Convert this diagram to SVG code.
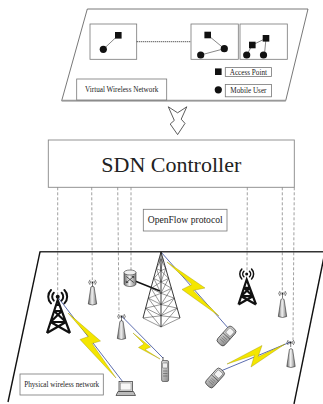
<svg xmlns="http://www.w3.org/2000/svg" width="323" height="404" viewBox="0 0 323 404">
  <style>
    .lbl { font-family: "Liberation Serif", "Times New Roman", serif; fill: #222; }
    .box { fill: #fff; stroke: #777; stroke-width: 0.8; }
    .ctl { stroke: #888; stroke-width: 0.8; stroke-dasharray: 3 2; fill: none; }
    .vline { stroke: #555; stroke-width: 0.7; fill: none; }
    .link { stroke: #4a5ca6; stroke-width: 0.9; fill: none; }
    .bolt { fill: #f4e600; stroke: #a09600; stroke-width: 0.4; stroke-linejoin: round; }
    .blk { stroke: #111; stroke-width: 2.2; fill: none; stroke-linejoin: miter; stroke-linecap: butt; }
    .wave { stroke: #111; fill: none; stroke-linecap: round; }
    .swave { stroke: #222; stroke-width: 0.6; fill: none; }
  </style>
  <defs>
    <linearGradient id="metal" x1="0" y1="0" x2="1" y2="0">
      <stop offset="0" stop-color="#6d6d6d"/>
      <stop offset="0.45" stop-color="#f2f2f2"/>
      <stop offset="1" stop-color="#7d7d7d"/>
    </linearGradient>
    <linearGradient id="phoneFill" x1="0" y1="0" x2="1" y2="1">
      <stop offset="0" stop-color="#e6e6e6"/>
      <stop offset="1" stop-color="#8a8a8a"/>
    </linearGradient>
    <!-- small omni antenna body, top at origin -->
    <g id="antBody">
      <path d="M-1.6,0 Q0,-1.8 1.6,0 L4.2,17 Q0,19 -4.2,17 Z" fill="url(#metal)" stroke="#333" stroke-width="0.6"/>
    </g>
    <!-- small radio waves ((.)) -->
    <g id="sWaves">
      <circle r="0.9" fill="#222"/>
      <path class="swave" d="M-1.4,-1.4 A2,2 0 0 0 -1.4,1.4 M1.4,-1.4 A2,2 0 0 1 1.4,1.4 M-2.5,-2.5 A3.5,3.5 0 0 0 -2.5,2.5 M2.5,-2.5 A3.5,3.5 0 0 1 2.5,2.5"/>
      <line x1="0" y1="0" x2="0" y2="4.5" stroke="#222" stroke-width="0.6"/>
    </g>
    <!-- flip phone, centred at origin, upright -->
    <g id="phone">
      <rect x="-4.8" y="-10.5" width="9.6" height="21" rx="3" fill="url(#phoneFill)" stroke="#333" stroke-width="0.7"/>
      <rect x="-3.2" y="-8.5" width="6.4" height="6.5" rx="1" fill="#f4f4f4" stroke="#555" stroke-width="0.5"/>
      <line x1="-4.8" y1="0" x2="4.8" y2="0" stroke="#333" stroke-width="0.6"/>
      <path d="M-2.8,2.5 H2.8 M-2.8,4.5 H2.8 M-2.8,6.5 H2.8" stroke="#555" stroke-width="0.5"/>
    </g>
  </defs>

  <!-- virtual network plane -->
  <g id="virtual-plane">
    <path d="M87.3,9 L308,9 L285.7,100.7 L61.7,100.7 Z" fill="#fff" stroke="#555" stroke-width="0.8"/>
    <line x1="61.7" y1="100.7" x2="285.7" y2="100.7" stroke="#999" stroke-width="1.8"/>
  </g>

  <g id="vnet-1">
    <rect class="box" x="90" y="24" width="46.7" height="35.3"/>
    <line class="vline" x1="103.3" y1="49.3" x2="118.3" y2="35.2"/>
    <rect x="115" y="32" width="6.6" height="6.6" fill="#111"/>
    <circle cx="103.3" cy="49.3" r="3.6" fill="#111"/>
  </g>

  <line x1="136.7" y1="41.7" x2="191" y2="41.7" stroke="#333" stroke-width="0.9" stroke-dasharray="1.2 0.8"/>

  <g id="vnet-2">
    <rect class="box" x="191" y="24" width="47.3" height="35.3"/>
    <path class="vline" d="M207.7,35 L224.3,48.7 L200.7,55"/>
    <rect x="204.4" y="31.7" width="6.6" height="6.6" fill="#111"/>
    <circle cx="224.3" cy="48.7" r="3.6" fill="#111"/>
    <circle cx="200.7" cy="55" r="3.6" fill="#111"/>
  </g>

  <g id="vnet-3">
    <rect class="box" x="240" y="24" width="47.3" height="35.3"/>
    <path class="vline" d="M246.7,55 L252.3,45 L266,38.3 L264.5,54"/>
    <rect x="249" y="41.7" width="6.6" height="6.6" fill="#111"/>
    <rect x="262.7" y="35" width="6.6" height="6.6" fill="#111"/>
    <circle cx="246.7" cy="55" r="3.6" fill="#111"/>
    <circle cx="263.5" cy="55" r="3.6" fill="#111"/>
  </g>

  <g id="legend">
    <rect x="215" y="68.4" width="6.6" height="6.6" fill="#111"/>
    <rect class="box" x="225.3" y="67.6" width="46.2" height="8.8"/>
    <text class="lbl" x="248.4" y="74.6" font-size="7.2" text-anchor="middle">Access Point</text>
    <circle cx="218.3" cy="89.8" r="3.6" fill="#111"/>
    <rect class="box" x="225.3" y="84.4" width="46.2" height="12.4"/>
    <text class="lbl" x="248.4" y="93.2" font-size="7.2" text-anchor="middle">Mobile User</text>
  </g>

  <g id="vnet-label">
    <rect class="box" x="76.7" y="79" width="90" height="21"/>
    <text class="lbl" x="121.7" y="92" font-size="7.2" text-anchor="middle">Virtual Wireless Network</text>
  </g>

  <!-- mapping arrow -->
  <g id="map-arrow">
    <path d="M168.3,106.8 L177.6,112.8 L186.8,106.8 L181.2,119.2 L185,123.4 L177.6,134.6 L170.2,124 L174.3,120.4 Z" fill="#fff" stroke="#333" stroke-width="0.8" stroke-linejoin="miter"/>
  </g>

  <g id="sdn-controller">
    <rect x="48.3" y="140" width="246" height="47.3" fill="#fff" stroke="#888" stroke-width="0.9"/>
    <text class="lbl" x="171.3" y="171.5" font-size="22" text-anchor="middle">SDN Controller</text>
  </g>

  <!-- control channels -->
  <g id="connectors">
    <line class="ctl" x1="57.7" y1="187.3" x2="57.7" y2="295"/>
    <line class="ctl" x1="91.7" y1="187.3" x2="92.3" y2="280"/>
    <line class="ctl" x1="117.7" y1="187.3" x2="119" y2="313"/>
    <line class="ctl" x1="131" y1="187.3" x2="131" y2="270"/>
    <line class="ctl" x1="247.3" y1="187.3" x2="247" y2="272"/>
    <line class="ctl" x1="282.3" y1="187.3" x2="282.3" y2="291"/>
    <line class="ctl" x1="294.3" y1="187.3" x2="293" y2="340"/>

    <!-- wireless links -->
    <line class="link" x1="161" y1="252" x2="229" y2="329"/>
    <line class="link" x1="290.5" y1="342" x2="222" y2="370.5"/>
    <line class="link" x1="121.5" y1="316" x2="163" y2="358"/>
    <line class="link" x1="57.7" y1="297" x2="124.5" y2="384"/>
    <line x1="135" y1="281" x2="160" y2="291" stroke="#111" stroke-width="1.4"/>

    <path class="bolt" d="M167,262 L205,288 L193,290.5 L219,316 L182,289.5 L192,284.5 Z"/>
    <path class="bolt" d="M227,364 L262,345.5 L258,357 L285,344 L251,367 L254.5,355 Z"/>
    <path class="bolt" d="M133,333 L150.5,347 L145,349.5 L160,359 L138.5,347.5 L144,344 Z"/>
    <path class="bolt" d="M68,313 L100.5,341 L92,343.5 L116,378 L80,339.5 L88.5,336.5 Z"/>
  </g>

  <g id="openflow-label">
    <rect class="box" x="143.3" y="209.3" width="83.7" height="21.7"/>
    <text class="lbl" x="185.2" y="223.3" font-size="9.6" text-anchor="middle">OpenFlow protocol</text>
  </g>

  <!-- physical network plane -->
  <g id="physical-plane">
    <line x1="39.5" y1="251.8" x2="323" y2="251.8" stroke="#333" stroke-width="1.5"/>
    <line x1="40" y1="251.8" x2="8" y2="402" stroke="#111" stroke-width="1.4"/>
    <line x1="325" y1="251.8" x2="294" y2="404" stroke="#111" stroke-width="1.4"/>
  </g>

  <g id="macro-tower">
    <path class="blk" d="M47,333 L57.7,300 L70,333 M56.1,305 H59.6 M54.1,311 H61.8 M50.6,322 H65.9 M54.1,311 L65.9,322 M61.8,311 L50.6,322 M50.6,322 L70,333 M65.9,322 L47,333"/>
    <circle cx="57.7" cy="296.7" r="2" fill="#111"/>
    <path class="wave" stroke-width="2" d="M53.8,292.8 A5.5,5.5 0 0 0 53.8,300.6 M61.6,292.8 A5.5,5.5 0 0 1 61.6,300.6 M51,290 A9.5,9.5 0 0 0 51,303.4 M64.4,290 A9.5,9.5 0 0 1 64.4,303.4"/>
  </g>

  <g id="bs-tower">
    <path class="blk" stroke-width="1.8" d="M238.5,304.5 L246.7,279.5 L256,304.5 M244,287.8 H249.8 M241.2,296.2 H252.9 M244,287.8 L252.9,296.2 M249.8,287.8 L241.2,296.2 M241.2,296.2 L256,304.5 M252.9,296.2 L238.5,304.5"/>
    <circle cx="246.7" cy="274" r="1.5" fill="#111"/>
    <path class="wave" stroke-width="1.5" d="M243.9,271.2 A4,4 0 0 0 243.9,276.8 M249.5,271.2 A4,4 0 0 1 249.5,276.8 M241.8,269.1 A7,7 0 0 0 241.8,278.9 M251.6,269.1 A7,7 0 0 1 251.6,278.9"/>
  </g>

  <g id="lattice-tower">
    <path d="M161,252 Q151,287 143,318 M161,252 Q171,287 180,318 M161,252 L161,327" stroke="#222" stroke-width="0.9" fill="none"/>
    <path stroke="#333" stroke-width="0.5" fill="none" d="
      M159.2,258.6 L161,259.5 L162.9,258.6
      M156.5,268.5 L161,270.75 L165.75,268.5
      M153.8,278.4 L161,282 L168.6,278.4
      M151.1,288.3 L161,293.25 L171.45,288.3
      M148.4,298.2 L161,304.5 L174.3,298.2
      M145.7,308.1 L161,315.75 L177.15,308.1
      M143,318 L161,327 L180,318
      M159.2,258.6 L161,270.75 M161,259.5 L156.5,268.5 M161,259.5 L165.75,268.5 M162.9,258.6 L161,270.75
      M156.5,268.5 L161,282 M161,270.75 L153.8,278.4 M161,270.75 L168.6,278.4 M165.75,268.5 L161,282
      M153.8,278.4 L161,293.25 M161,282 L151.1,288.3 M161,282 L171.45,288.3 M168.6,278.4 L161,293.25
      M151.1,288.3 L161,304.5 M161,293.25 L148.4,298.2 M161,293.25 L174.3,298.2 M171.45,288.3 L161,304.5
      M148.4,298.2 L161,315.75 M161,304.5 L145.7,308.1 M161,304.5 L177.15,308.1 M174.3,298.2 L161,315.75
      M145.7,308.1 L161,327 M161,315.75 L143,318 M161,315.75 L180,318 M177.15,308.1 L161,327"/>
  </g>

  <g id="router">
    <path d="M124,272.5 L124,284 A6,2.5 0 0 0 136,284 L136,272.5 Z" fill="url(#metal)" stroke="#333" stroke-width="0.6"/>
    <ellipse cx="130" cy="272.5" rx="6" ry="2.5" fill="#f0f0f0" stroke="#333" stroke-width="0.6"/>
    <path d="M126.3,276.5 L133.7,282.5 M126.3,282.5 L133.7,276.5 M131.8,276.5 H133.7 V278.2 M128.2,282.5 H126.3 V280.8" stroke="#222" stroke-width="0.7" fill="none"/>
  </g>

  <g id="antenna-1">
    <use href="#antBody" x="92.5" y="287"/>
    <use href="#sWaves" x="92.5" y="282.3"/>
  </g>
  <g id="antenna-2">
    <use href="#antBody" x="121.5" y="321.5"/>
    <use href="#sWaves" x="121.5" y="316.5"/>
  </g>
  <g id="antenna-3">
    <use href="#antBody" x="282.5" y="299.5"/>
    <use href="#sWaves" x="282.5" y="293.5"/>
  </g>
  <g id="antenna-4">
    <use href="#antBody" x="291" y="349.5"/>
    <use href="#sWaves" x="290.7" y="342.5"/>
  </g>

  <g id="phone-1">
    <use href="#phone" transform="translate(226.5,336) rotate(42)"/>
  </g>
  <g id="phone-2">
    <use href="#phone" transform="translate(215,378) rotate(42)"/>
  </g>

  <g id="handheld">
    <line x1="163" y1="361" x2="163" y2="357" stroke="#333" stroke-width="0.8"/>
    <rect x="161.6" y="360.5" width="7" height="21" rx="1.5" fill="url(#phoneFill)" stroke="#333" stroke-width="0.6"/>
    <rect x="162.8" y="363" width="4.6" height="5" fill="#eee" stroke="#444" stroke-width="0.4"/>
    <path d="M163,371 H167.4 M163,373.5 H167.4 M163,376 H167.4" stroke="#444" stroke-width="0.5"/>
  </g>

  <g id="laptop">
    <rect x="119" y="381.5" width="13.5" height="10" fill="#ddd" stroke="#333" stroke-width="0.7"/>
    <rect x="120.5" y="383" width="10.5" height="7" fill="#f8f8f8" stroke="#666" stroke-width="0.4"/>
    <path d="M118,391.5 H133.5 L135.5,395.5 H116 Z" fill="#bbb" stroke="#333" stroke-width="0.7"/>
  </g>

  <g id="pnet-label">
    <rect class="box" x="20" y="374" width="83.3" height="21"/>
    <text class="lbl" x="61.7" y="387" font-size="7.2" text-anchor="middle">Physical wireless network</text>
  </g>
</svg>
